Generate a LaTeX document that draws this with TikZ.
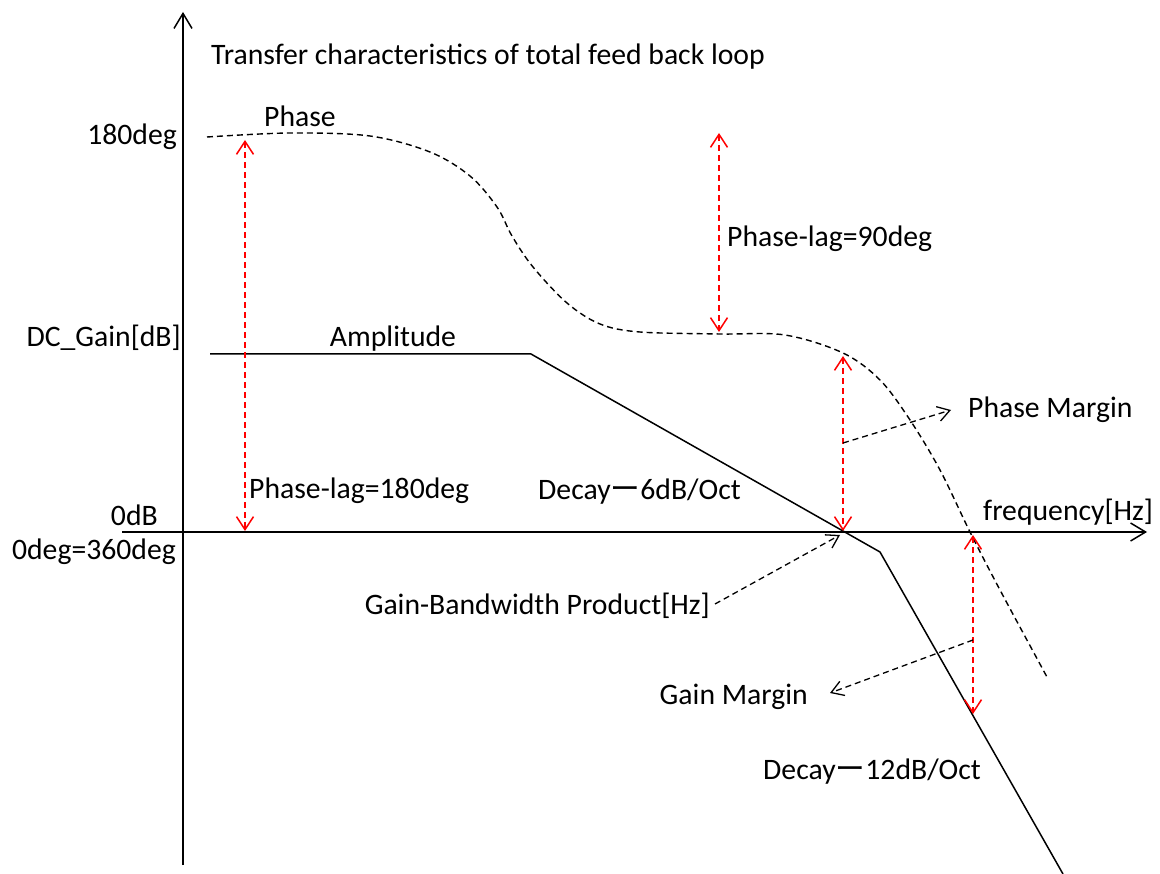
\documentclass[tikz,border=0pt]{standalone}
\usepackage{fontspec}
\setmainfont{Carlito}
\newfontfamily\cjk{Noto Sans CJK JP}
\usetikzlibrary{arrows.meta}
\begin{document}
\begin{tikzpicture}[x=1pt,y=-1pt,
  lbl/.style={font=\fontsize{29.7}{34}\selectfont, inner sep=0pt},
  axisln/.style={line width=1.6pt, -{Straight Barb[length=15pt,width=18pt,line width=1.5pt]}},
  solidcurve/.style={line width=1.5pt},
  phasecurve/.style={line width=1.4pt, dash pattern=on 6pt off 4pt},
  redarr/.style={red, line width=1.5pt, dash pattern=on 6pt off 4pt,
    {Straight Barb[length=13pt,width=17pt,line width=1.5pt]}-{Straight Barb[length=13pt,width=17pt,line width=1.5pt]}},
  ptr/.style={line width=1.3pt, dash pattern=on 6pt off 4pt,
    -{Straight Barb[length=12pt,width=15pt,line width=1.3pt]}}
]
\useasboundingbox (0,0) rectangle (1160,874);

% axes
\coordinate (yb) at (183,865); \coordinate (yt) at (183,12);
\coordinate (xl) at (122,532); \coordinate (xr) at (1147,532);
\draw[axisln] (yb) -- (yt);
\draw[axisln] (xl) -- (xr);

% amplitude
\coordinate (a0) at (210,354); \coordinate (a1) at (531,354);
\coordinate (a3) at (880,552); \coordinate (a4) at (1063,874);
\draw[solidcurve] (a0) -- (a1) -- (a3) -- (a4);

% phase
\draw[phasecurve] plot[smooth, tension=0.55] coordinates {
  (207,137) (290,133) (370,136) (430,152) (470,176) (497,207) (512,236)
  (533,267) (567,303) (600,324) (640,332) (720,334) (785,335) (843,353)
  (880,380) (910,420) (940,470) (970,532) (1000,590) (1047,677)};

% red double arrows
\coordinate (r1t) at (245,140); \coordinate (r1b) at (245,531);
\coordinate (r2t) at (719,133); \coordinate (r2b) at (719,332);
\coordinate (r3t) at (843,356); \coordinate (r3b) at (843,531);
\coordinate (r4t) at (973,535); \coordinate (r4b) at (973,714);
\draw[redarr] (r1t) -- (r1b);
\draw[redarr] (r2t) -- (r2b);
\draw[redarr] (r3t) -- (r3b);
\draw[redarr] (r4t) -- (r4b);

% labels
\node[lbl,anchor=west] (title) at (211,57) {Transfer characteristics of total feed back loop};
\node[lbl,anchor=west] (phase) at (264,116) {Phase};
\node[lbl,anchor=east] (deg180) at (177,137) {180deg};
\node[lbl,anchor=east] (dcgain) at (181,338) {DC\_Gain[dB]};
\node[lbl] (ampl) at (393,339) {Amplitude};
\node[lbl,anchor=west] (lag90) at (727,239) {Phase-lag=90deg};
\node[lbl,anchor=west] (pm) at (968,410) {Phase Margin};
\node[lbl,anchor=west] (freq) at (983,512) {frequency[Hz]};
\node[lbl,anchor=east] (zdb) at (158,515) {0dB};
\node[lbl,anchor=east] (zdeg) at (176,552) {0deg=360deg};
\node[lbl,anchor=west] (lag180) at (249,491) {Phase-lag=180deg};
\node[lbl,anchor=west] (dec6) at (538,492) {Decay{\cjk ー}6dB/Oct};
\node[lbl,anchor=east] (gbp) at (710,606) {Gain-Bandwidth Product[Hz]};
\node[lbl,anchor=east] (gm) at (808,697) {Gain Margin};
\node[lbl,anchor=west] (dec12) at (763,772) {Decay{\cjk ー}12dB/Oct};

% pointer arrows
\coordinate (pms) at (843,443); \coordinate (pme) at (951,410);
\coordinate (gbs) at (715,604); \coordinate (gbe) at (840,535);
\coordinate (gms) at (973,640); \coordinate (gme) at (830,693);
\draw[ptr] (pms) -- (pme);
\draw[ptr] (gbs) -- (gbe);
\draw[ptr] (gms) -- (gme);
\end{tikzpicture}
\end{document}
